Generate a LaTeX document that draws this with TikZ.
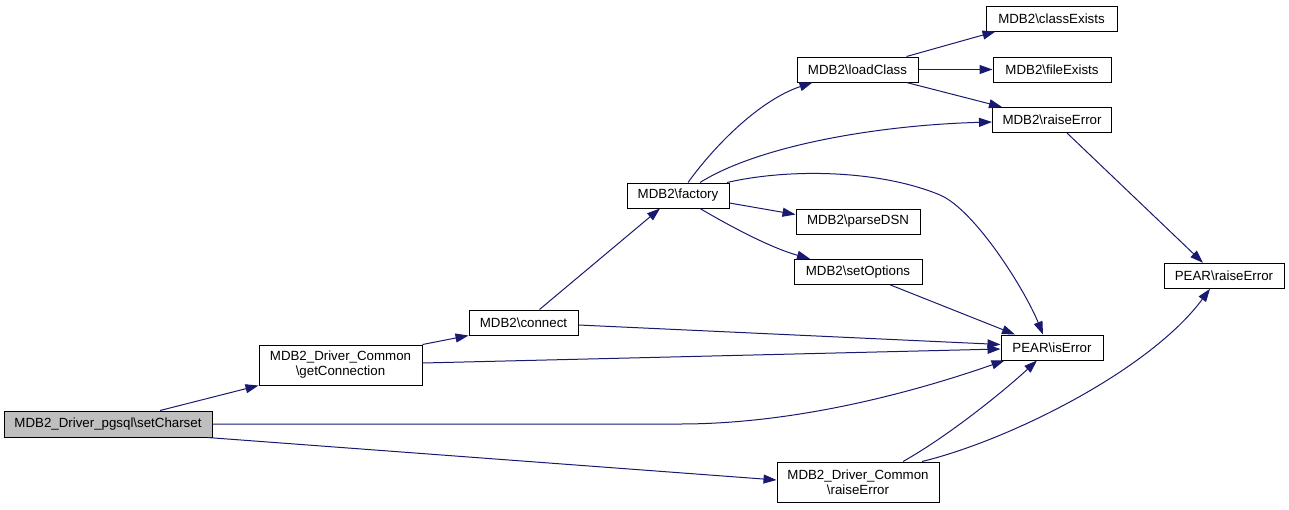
\documentclass[tikz,border=0pt]{standalone}
\usepackage{fontspec}
\setmainfont{Liberation Sans}
\usetikzlibrary{arrows.meta}
\definecolor{edgeblue}{RGB}{25,25,112}
\definecolor{startgray}{RGB}{191,191,191}
\begin{document}
\begin{tikzpicture}[x=1pt,y=-1pt,
  box/.style={draw=black, line width=1pt, inner sep=0pt, align=center,
    font=\fontsize{13.3}{15}\selectfont, fill=white, minimum height=25pt},
  twoline/.style={minimum height=40pt},
  call/.style={draw=edgeblue, line width=1pt, -{Triangle[length=13pt,width=9pt]}},
]
\useasboundingbox (0,0) rectangle (1289,509);

\node[box, fill=startgray, minimum width=208pt, minimum height=26pt] (sc) at (108,424) {MDB2\_Driver\_pgsql\textbackslash setCharset};
\node[box, twoline, minimum width=163pt] (gc) at (340.5,365) {MDB2\_Driver\_Common\\\textbackslash getConnection};
\node[box, minimum width=109pt] (cn) at (523.5,322.5) {MDB2\textbackslash connect};
\node[box, minimum width=102pt] (fa) at (678,195.5) {MDB2\textbackslash factory};
\node[box, minimum width=121pt] (lc) at (857.5,69.5) {MDB2\textbackslash loadClass};
\node[box, minimum width=131pt] (ce) at (1051.5,18.5) {MDB2\textbackslash classExists};
\node[box, minimum width=118pt] (fe) at (1052,69.5) {MDB2\textbackslash fileExists};
\node[box, minimum width=119pt] (mre) at (1052,120) {MDB2\textbackslash raiseError};
\node[box, minimum width=124pt] (pd) at (858,221.5) {MDB2\textbackslash parseDSN};
\node[box, minimum width=128pt] (so) at (858,271.8) {MDB2\textbackslash setOptions};
\node[box, minimum width=102pt] (ie) at (1052,347.5) {PEAR\textbackslash isError};
\node[box, minimum width=120pt] (pre) at (1224,275.8) {PEAR\textbackslash raiseError};
\node[box, twoline, minimum width=162pt] (cre) at (858,482) {MDB2\_Driver\_Common\\\textbackslash raiseError};

\draw[call] ([xshift=52pt]sc.north) -- (gc.south west);
\draw[call] (sc.east) -- (680,424) .. controls (800,424) and (920,390) .. ([xshift=4pt]ie.south west);
\draw[call] ([xshift=-5pt]sc.south east) -- ([yshift=2pt]cre.west);
\draw[call] (gc.north east) -- (cn.south west);
\draw[call] ([yshift=2pt]gc.east) -- ([yshift=-1.5pt]ie.west);
\draw[call] ([yshift=-2.5pt]cn.east) -- ([yshift=3pt]ie.west);
\draw[call] ([xshift=16pt]cn.north) -- ([xshift=-18pt]fa.south);
\draw[call] ([xshift=10pt]fa.north) .. controls (715,145) and (760,100) .. ([xshift=-45pt]lc.south);
\draw[call] ([xshift=22pt]fa.north) .. controls (760,145) and (880,125) .. ([yshift=-2pt]mre.west);
\draw[call] ([xshift=49pt]fa.north) .. controls (790,168) and (880,170) .. (940,195) .. controls (975,210) and (1025,290) .. ([xshift=-9pt]ie.north);
\draw[call] ([yshift=-7.5pt]fa.east) -- ([yshift=7pt]pd.west);
\draw[call] ([xshift=22pt]fa.south) .. controls (740,232) and (775,249) .. ([xshift=-48pt]so.north);
\draw[call] ([xshift=49pt]lc.north) -- ([xshift=-56pt]ce.south);
\draw[call] (lc.east) -- (fe.west);
\draw[call] ([xshift=49pt]lc.south) -- ([xshift=-50pt]mre.north);
\draw[call] ([xshift=15pt]mre.south) -- ([xshift=-21pt]pre.north);
\draw[call] ([xshift=32pt]so.south) -- ([xshift=-37pt]ie.north);
\draw[call] ([xshift=45pt]cre.north) .. controls (950,435) and (1005,390) .. ([xshift=-15pt]ie.south);
\draw[call] ([xshift=64pt]cre.north) .. controls (1010,440) and (1150,370) .. ([xshift=-14pt]pre.south);
\end{tikzpicture}
\end{document}
